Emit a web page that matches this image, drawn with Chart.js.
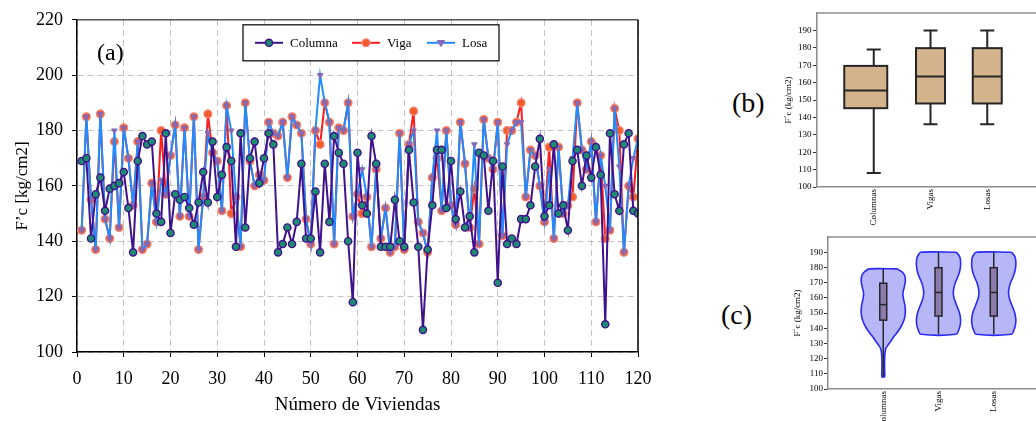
<!DOCTYPE html>
<html lang="es">
<head>
<meta charset="utf-8">
<title>F'c por vivienda</title>
<script src="https://cdn.jsdelivr.net/npm/chart.js@4.4.1/dist/chart.umd.min.js"></script>
<style>
  html, body { margin: 0; padding: 0; background: #fff; }
  body { position: relative; width: 1036px; height: 421px; overflow: hidden;
         font-family: 'Liberation Serif', 'Times New Roman', serif; }
  canvas { position: absolute; }
  .rotulo { position: absolute; line-height: 1; color: #000; white-space: nowrap; }
</style>
</head>
<body>
<canvas id="graficoA" width="700" height="421" style="left:0;top:0"></canvas>
<canvas id="graficoB" width="270" height="235" style="left:780px;top:0"></canvas>
<canvas id="graficoC" width="275" height="206" style="left:780px;top:215px"></canvas>
<div class="rotulo" style="left:97px;top:40px;font-size:24px">(a)</div>
<div class="rotulo" style="left:732px;top:89px;font-size:28px">(b)</div>
<div class="rotulo" style="left:721px;top:301px;font-size:28px">(c)</div>
<script>
// Número de vivienda (eje x) y resistencia F'c leída para cada elemento
const viviendas = Array.from({ length: 120 }, (_, i) => i + 1);

const columna = [
  169, 170, 141, 157, 163, 151, 159, 160, 161, 165,
  152, 136, 169, 178, 175, 176, 150, 147, 179, 143,
  157, 155, 156, 152, 146, 154, 165, 154, 176, 156,
  164, 174, 169, 138, 179, 145, 170, 176, 161, 170,
  179, 175, 136, 139, 145, 139, 147, 168, 141, 141,
  158, 136, 168, 147, 178, 172, 168, 140, 118, 172,
  153, 150, 178, 168, 138, 138, 138, 155, 140, 138,
  173, 154, 138, 108, 137, 153, 173, 173, 152, 169,
  148, 158, 145, 149, 136, 172, 171, 151, 169, 125,
  167, 139, 141, 139, 148, 148, 153, 167, 177, 149,
  153, 175, 150, 153, 144, 169, 173, 160, 171, 163,
  174, 164, 110, 179, 157, 151, 175, 179, 151, 150
];

const viga = [
  144, 185, 155, 137, 186, 148, 141, 176, 145, 181,
  170, 153, 176, 137, 139, 161, 147, 180, 157, 171,
  182, 149, 181, 149, 185, 137, 156, 186, 172, 169,
  151, 189, 150, 156, 138, 190, 169, 160, 164, 162,
  183, 179, 178, 183, 163, 185, 182, 179, 148, 139,
  180, 175, 190, 183, 139, 181, 180, 190, 149, 157,
  150, 156, 138, 166, 141, 152, 136, 138, 179, 137,
  175, 187, 147, 143, 136, 163, 170, 151, 180, 153,
  146, 183, 168, 145, 159, 139, 184, 170, 166, 183,
  142, 180, 180, 183, 190, 156, 173, 171, 160, 147,
  174, 141, 174, 150, 153, 156, 190, 173, 166, 176,
  147, 171, 141, 144, 188, 180, 136, 160, 156, 177
];

const losa = [
  144, 185, 155, 137, 186, 148, 141, 180, 145, 181,
  170, 153, 176, 137, 139, 161, 147, 162, 157, 171,
  182, 149, 181, 149, 185, 137, 156, 179, 172, 169,
  151, 189, 180, 156, 138, 190, 169, 160, 164, 162,
  183, 179, 178, 183, 163, 185, 182, 179, 148, 139,
  180, 200, 190, 183, 139, 181, 180, 190, 149, 157,
  166, 156, 138, 166, 141, 152, 136, 138, 179, 137,
  175, 180, 147, 143, 136, 163, 180, 151, 180, 153,
  146, 183, 168, 145, 175, 139, 184, 170, 166, 183,
  142, 175, 180, 183, 183, 156, 173, 171, 160, 147,
  166, 141, 174, 150, 153, 170, 190, 173, 166, 176,
  147, 171, 160, 144, 188, 167, 136, 160, 170, 177
];

// Diagramas de caja (b) y (c): valores
const categorias = ['Columnas', 'Vigas', 'Losas'];
const bigoteMin = [108, 136, 136];
const cuartil1 = [145.3, 148, 148];
const mediana = [155.5, 163.5, 163.5];
const cuartil3 = [169.6, 179.8, 179.8];
const bigoteMax = [179, 190, 190];

const nivelesColumnas = [179, 177, 175, 172, 170, 167, 164, 162, 159, 155, 151, 148, 145, 142, 140, 137, 134, 131, 129, 127, 125, 122, 118, 113, 108];
const densidadColumnas = [0.64, 0.85, 0.96, 1.0, 0.99, 0.95, 0.9, 0.89, 0.92, 0.98, 1.0, 0.98, 0.93, 0.84, 0.76, 0.62, 0.46, 0.32, 0.22, 0.13, 0.09, 0.07, 0.06, 0.06, 0.06];
const nivelesVigas = [190, 188, 186, 183, 180, 177, 174, 171, 168, 165, 163, 160, 157, 154, 151, 148, 145, 142, 139, 136];
const densidadVigas = [0.8, 0.92, 0.98, 1.0, 0.99, 0.95, 0.88, 0.79, 0.72, 0.68, 0.67, 0.7, 0.77, 0.85, 0.93, 0.98, 1.0, 0.98, 0.92, 0.8];
const nivelesLosas = [190, 188, 186, 183, 180, 177, 174, 171, 168, 165, 163, 160, 157, 154, 151, 148, 145, 142, 139, 136];
const densidadLosas = [0.8, 0.92, 0.98, 1.0, 0.99, 0.95, 0.88, 0.79, 0.72, 0.68, 0.67, 0.7, 0.77, 0.85, 0.93, 0.98, 1.0, 0.98, 0.92, 0.8];

const serif = "'Liberation Serif', 'Times New Roman', serif";
const puntos = serie => viviendas.map((x, i) => ({ x, y: serie[i] }));

// Recuadro de leyenda dentro del área del gráfico (a)
const pluginLeyenda = {
  id: 'leyendaRecuadro',
  afterDatasetsDraw(chart) {
    const { ctx, chartArea } = chart;
    const caja = { x: chartArea.left + 166, y: chartArea.top + 5, w: 256, h: 36 };
    const yc = caja.y + caja.h / 2;
    const entradas = [12, 109, 184];
    ctx.save();
    ctx.fillStyle = '#fff';
    ctx.fillRect(caja.x, caja.y, caja.w, caja.h);
    ctx.strokeStyle = '#111';
    ctx.lineWidth = 1.3;
    ctx.strokeRect(caja.x, caja.y, caja.w, caja.h);
    chart.data.datasets.forEach((ds, j) => {
      const x0 = caja.x + entradas[j];
      ctx.strokeStyle = ds.borderColor;
      ctx.lineWidth = 2;
      ctx.beginPath();
      ctx.moveTo(x0, yc);
      ctx.lineTo(x0 + 28, yc);
      ctx.stroke();
      ctx.fillStyle = ds.pointBackgroundColor;
      ctx.strokeStyle = ds.pointBorderColor;
      ctx.lineWidth = ds.pointBorderWidth;
      ctx.beginPath();
      if (ds.pointStyle === 'triangle') {
        const r = ds.pointRadius + 0.5;
        ctx.moveTo(x0 + 14 - r, yc - r * 0.6);
        ctx.lineTo(x0 + 14 + r, yc - r * 0.6);
        ctx.lineTo(x0 + 14, yc + r);
        ctx.closePath();
      } else {
        ctx.arc(x0 + 14, yc, ds.pointRadius, 0, Math.PI * 2);
      }
      ctx.fill();
      ctx.stroke();
      ctx.fillStyle = '#000';
      ctx.font = '13px ' + serif;
      ctx.textBaseline = 'middle';
      ctx.fillText(ds.label, x0 + 35, yc + 1);
    });
    ctx.restore();
  }
};

// Bordes superior y derecho del marco
const pluginMarco = {
  id: 'marco',
  afterDraw(chart, args, o) {
    const { ctx, chartArea: { left, right, top, bottom } } = chart;
    ctx.save();
    ctx.lineWidth = o.ancho;
    ctx.strokeStyle = o.superior;
    ctx.beginPath();
    ctx.moveTo(left, top);
    ctx.lineTo(right, top);
    ctx.stroke();
    if (o.derecha) {
      ctx.strokeStyle = o.derecha;
      ctx.beginPath();
      ctx.moveTo(right, top);
      ctx.lineTo(right, bottom);
      ctx.stroke();
    }
    ctx.restore();
  }
};

// Cajas y bigotes dibujados con las escalas del gráfico
const pluginCajas = {
  id: 'cajas',
  afterDatasetsDraw(chart, args, o) {
    const { ctx, scales: { x, y } } = chart;
    ctx.save();
    ctx.strokeStyle = o.linea;
    ctx.lineWidth = o.grosor;
    categorias.forEach((c, i) => {
      const xc = x.getPixelForValue(i + 1);
      const xb = xc + o.desplazamiento[i];
      const w = o.anchos[i];
      const yMin = y.getPixelForValue(bigoteMin[i]);
      const yMax = y.getPixelForValue(bigoteMax[i]);
      ctx.beginPath();
      ctx.moveTo(xc, yMin);
      ctx.lineTo(xc, yMax);
      if (o.tapa) {
        ctx.moveTo(xc - o.tapa / 2, yMin);
        ctx.lineTo(xc + o.tapa / 2, yMin);
        ctx.moveTo(xc - o.tapa / 2, yMax);
        ctx.lineTo(xc + o.tapa / 2, yMax);
      }
      ctx.stroke();
      const yQ3 = y.getPixelForValue(cuartil3[i]);
      const yQ1 = y.getPixelForValue(cuartil1[i]);
      ctx.fillStyle = o.relleno;
      ctx.fillRect(xb - w / 2, yQ3, w, yQ1 - yQ3);
      ctx.strokeRect(xb - w / 2, yQ3, w, yQ1 - yQ3);
      const yMed = y.getPixelForValue(mediana[i]);
      ctx.beginPath();
      ctx.moveTo(xb - w / 2, yMed);
      ctx.lineTo(xb + w / 2, yMed);
      ctx.stroke();
    });
    ctx.restore();
  }
};

// (a) F'c por vivienda
new Chart(document.getElementById('graficoA'), {
  type: 'line',
  data: {
    datasets: [
      {
        label: 'Columna', data: puntos(columna),
        borderColor: '#40118c', borderWidth: 2,
        pointRadius: 3.6, pointBorderWidth: 1.4,
        pointBackgroundColor: '#1d8b6f', pointBorderColor: '#40118c',
        order: 0
      },
      {
        label: 'Viga', data: puntos(viga),
        borderColor: '#ff1c1c', borderWidth: 2,
        pointRadius: 3.9, pointBorderWidth: 1.3,
        pointBackgroundColor: '#f25c2a', pointBorderColor: '#f4867a',
        order: 2
      },
      {
        label: 'Losa', data: puntos(losa),
        borderColor: '#1f8cff', borderWidth: 2,
        pointStyle: 'triangle', pointRotation: 180,
        pointRadius: 3.2, pointBorderWidth: 1,
        pointBackgroundColor: '#8469b8', pointBorderColor: '#8469b8',
        order: 1
      }
    ]
  },
  options: {
    responsive: false,
    animation: false,
    layout: { padding: { top: 17, right: 62, left: 0, bottom: 0 } },
    plugins: {
      legend: { display: false },
      tooltip: { enabled: false },
      marco: { ancho: 1.5, superior: '#555', derecha: '#000' }
    },
    scales: {
      x: {
        type: 'linear', min: 0, max: 120,
        ticks: { stepSize: 10, maxTicksLimit: 20, autoSkip: false, maxRotation: 0,
                 padding: 11, color: '#000', font: { family: serif, size: 18 } },
        grid: { color: '#c4c0c8', tickColor: '#000', tickLength: 5 },
        border: { color: '#000', width: 1.5, dash: [6, 4] },
        title: { display: true, text: 'Número de Viviendas', color: '#000',
                 font: { family: serif, size: 19 }, padding: { top: 0, bottom: 5 } },
        afterFit: s => { s.height = 69; }
      },
      y: {
        min: 100, max: 220,
        ticks: { stepSize: 20, padding: 9, color: '#000', font: { family: serif, size: 18 } },
        grid: { color: '#c4c0c8', tickColor: '#000', tickLength: 5 },
        border: { color: '#000', width: 1.5, dash: [6, 4] },
        title: { display: true, text: 'F’c [kg/cm2]', color: '#000',
                 font: { family: serif, size: 17 }, padding: { top: 12, bottom: 0 } },
        afterFit: s => { s.width = 77; }
      }
    }
  },
  plugins: [pluginLeyenda, pluginMarco]
});

// Escalas comunes de los gráficos (b) y (c)
function escalasCaja(altoX, anchoY, padTitulo, padTicks) {
  return {
    x: {
      type: 'linear', min: 0, max: 4,
      afterBuildTicks: s => { s.ticks = categorias.map((_, i) => ({ value: i + 1 })); },
      ticks: { callback: v => categorias[v - 1], minRotation: 90, maxRotation: 90,
               autoSkip: false, padding: 2, color: '#000', font: { family: serif, size: 9 } },
      grid: { display: false, drawTicks: false },
      border: { color: '#8c8c8c', width: 1.5 },
      afterFit: s => { s.height = altoX; }
    },
    y: {
      min: 100, max: 200,
      afterBuildTicks: s => { s.ticks = s.ticks.filter(t => t.value < 200); },
      ticks: { stepSize: 10, padding: padTicks, color: '#000', font: { family: serif, size: 9 } },
      grid: { drawOnChartArea: false, tickLength: 4, tickColor: '#333', tickWidth: 1 },
      border: { color: '#8c8c8c', width: 1.5 },
      title: { display: true, text: 'F´c (kg/cm2)', color: '#000',
               font: { family: serif, size: 9 }, padding: { top: padTitulo, bottom: 0 } },
      afterFit: s => { s.width = anchoY; }
    }
  };
}

// (b) diagrama de caja
new Chart(document.getElementById('graficoB'), {
  type: 'scatter',
  data: { datasets: [] },
  options: {
    responsive: false,
    animation: false,
    layout: { padding: { top: 13, right: 6, left: 0, bottom: 0 } },
    plugins: {
      legend: { display: false },
      tooltip: { enabled: false },
      marco: { ancho: 1.5, superior: '#8c8c8c' },
      cajas: { anchos: [43, 29, 29], desplazamiento: [-8, 0, 0], tapa: 14,
               relleno: '#d3b38b', linea: '#262626', grosor: 2 }
    },
    scales: escalasCaja(48, 37, 3, 1.5)
  },
  plugins: [pluginCajas, pluginMarco]
});

// (c) violines: contorno simétrico alrededor de cada categoría
function contornoViolin(niveles, densidad, i) {
  const der = niveles.map((y, j) => ({ x: i + 1 + 0.4 * densidad[j], y }));
  const izq = niveles.map((y, j) => ({ x: i + 1 - 0.4 * densidad[j], y })).reverse();
  return [...der, ...izq, der[0]];
}

const violines = [
  [nivelesColumnas, densidadColumnas],
  [nivelesVigas, densidadVigas],
  [nivelesLosas, densidadLosas]
];

new Chart(document.getElementById('graficoC'), {
  type: 'scatter',
  data: {
    datasets: violines.map(([niveles, densidad], i) => ({
      label: categorias[i],
      data: contornoViolin(niveles, densidad, i),
      showLine: true,
      tension: 0.3,
      fill: 'shape',
      backgroundColor: 'rgba(95, 95, 240, 0.45)',
      borderColor: '#2a2af5',
      borderWidth: 1.6,
      pointRadius: 0
    }))
  },
  options: {
    responsive: false,
    animation: false,
    layout: { padding: { top: 22, right: 6, left: 0, bottom: 0 } },
    plugins: {
      legend: { display: false },
      tooltip: { enabled: false },
      marco: { ancho: 1.5, superior: '#8c8c8c' },
      cajas: { anchos: [7, 7, 7], desplazamiento: [0, 0, 0], tapa: 0,
               relleno: '#8c7ba8', linea: '#26262e', grosor: 1.5 }
    },
    scales: escalasCaja(32, 48, 12, 1)
  },
  plugins: [pluginCajas, pluginMarco]
});
</script>
</body>
</html>
